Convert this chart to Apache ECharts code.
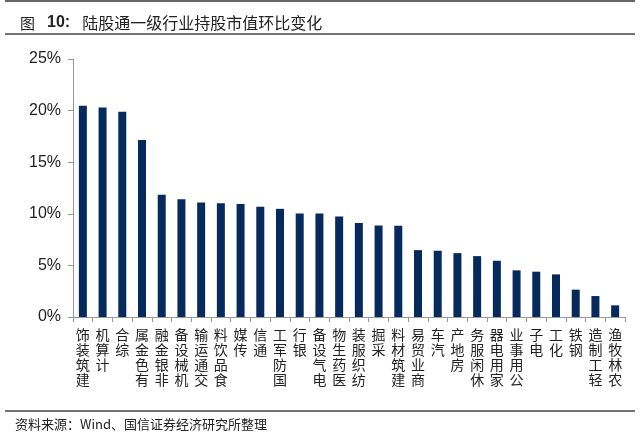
<!DOCTYPE html>
<html><head><meta charset="utf-8">
<script src="https://cdn.jsdelivr.net/npm/echarts@6/dist/echarts.min.js"></script>
<style>html,body{margin:0;padding:0;background:#fff}#c{width:640px;height:437px}</style>
</head><body><div id="c"></div>
<script>
var categories = ['建筑装饰','计算机','综合','有色金属','非银金融','机械设备','交通运输','食品饮料','传媒','通信','国防军工','银行','电气设备','医药生物','纺织服装','采掘','建筑材料','商业贸易','汽车','房地产','休闲服务','家用电器','公用事业','电子','化工','钢铁','轻工制造','农林牧渔'];
var values = [20.48,20.29,19.9,17.16,11.84,11.42,11.1,11.03,10.94,10.68,10.48,10.03,10.03,9.74,9.1,8.87,8.84,6.48,6.42,6.19,5.9,5.45,4.52,4.39,4.13,2.65,2.03,1.13];
var yTicks = [0,5,10,15,20,25];

var chart = echarts.init(document.getElementById('c'), null, {renderer:'canvas'});
chart.setOption({
  animation:false,
  backgroundColor:'#fff',
  title:{
    text:'{a|图}{b|10:}{n|陆股通一级行业持股市值环比变化}',
    left:15, top:10,
    textStyle:{
      fontWeight:'normal',
      rich:{
        a:{fontFamily:'"Noto Sans CJK SC"',fontSize:15,fontWeight:'normal',color:'#222',padding:[0,12,0,0]},
        b:{fontFamily:'Arial, "Liberation Sans"',fontSize:16,fontWeight:'bold',color:'#222',padding:[0,12,0,0]},
        n:{fontFamily:'"Noto Sans CJK SC"',fontSize:16,fontWeight:'normal',color:'#222'}
      }
    }
  },
  graphic:[
    {type:'line',shape:{x1:5,y1:1,x2:635,y2:1},style:{stroke:'#666',lineWidth:2}},
    {type:'line',shape:{x1:5,y1:34,x2:635,y2:34},style:{stroke:'#444',lineWidth:1.5}},
    {type:'line',shape:{x1:5,y1:411,x2:635,y2:411},style:{stroke:'#444',lineWidth:1.5}},
    {type:'text',left:15,top:418,style:{text:'资料来源：Wind、国信证券经济研究所整理',fontFamily:'"Noto Sans CJK SC"',fontSize:13,fill:'#222'}}
  ],
  grid:{left:73,right:15,top:59,bottom:120,containLabel:false},
  xAxis:{
    type:'category',
    data:categories,
    axisLine:{lineStyle:{color:'#999',width:1}},
    axisTick:{show:true,alignWithLabel:false,length:5,lineStyle:{color:'#999'}},
    axisLabel:{
      interval:0,
      margin:10,
      fontFamily:'"Noto Sans CJK SC"',
      fontSize:14,
      lineHeight:15,
      color:'#222',
      formatter:function(v){return v.split('').reverse().join('\n');}
    }
  },
  yAxis:{
    type:'value',
    min:0,max:25,interval:5,
    axisLine:{show:true,lineStyle:{color:'#999'}},
    axisTick:{show:true,length:5,lineStyle:{color:'#999'}},
    splitLine:{show:false},
    axisLabel:{
      margin:12,
      fontFamily:'Arial, "Liberation Sans"',
      fontSize:16,
      color:'#222',
      formatter:function(v){return yTicks.indexOf(v)>=0 ? v+'%' : '';}
    }
  },
  series:[{
    type:'bar',
    data:values,
    barWidth:8,
    itemStyle:{color:'#062a5c'}
  }]
});
</script>
</body></html>
